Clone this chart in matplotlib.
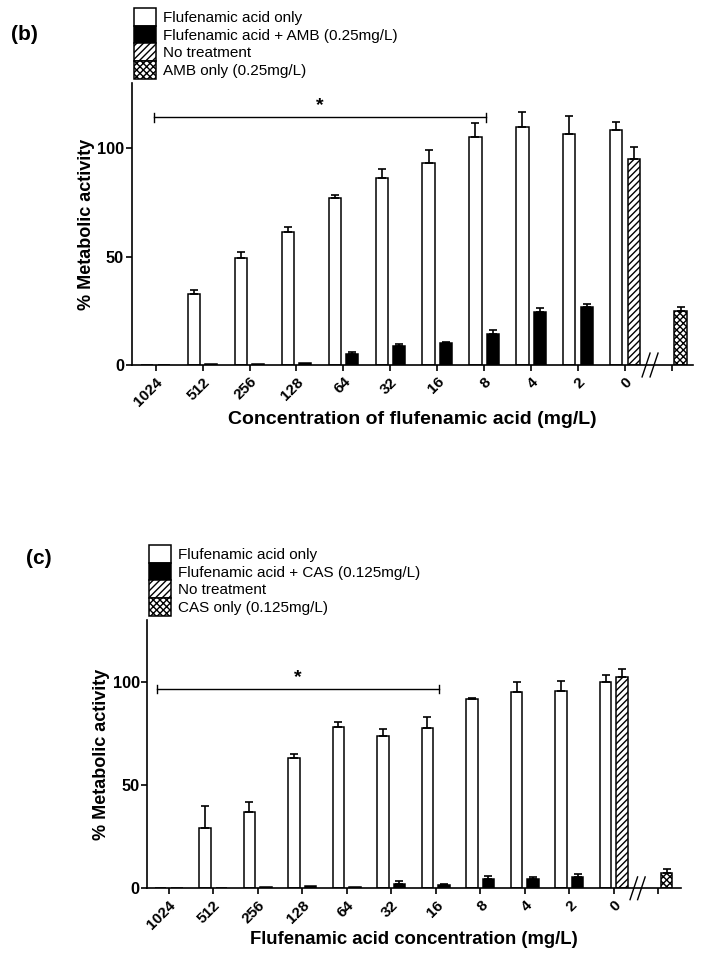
import numpy as np
import matplotlib
matplotlib.use("Agg")
import matplotlib.pyplot as plt

plt.rcParams['font.family'] = ['Liberation Sans', 'DejaVu Sans']
plt.rcParams['hatch.linewidth'] = 1.0

conc_labels = ['1024', '512', '256', '128', '64', '32', '16', '8', '4', '2', '0']

# panel (b) values
b_fa = [0, 32.8, 49.5, 61.5, 76.9, 86.4, 93.1, 105.4, 109.7, 106.5, 108.4]
b_fa_err = [0, 1.8, 2.8, 2.0, 1.5, 4.0, 6.3, 6.1, 7.1, 8.4, 3.9]
b_combo = [0, 0.6, 0.6, 1.1, 5.1, 8.9, 10.3, 14.1, 24.6, 26.6]
b_combo_err = [0, 0, 0, 0, 0.9, 0.6, 0.2, 2.2, 1.7, 1.7]
b_none, b_none_err = 94.9, 5.6
b_drug, b_drug_err = 25.1, 1.8
b_legend = ['Flufenamic acid only', 'Flufenamic acid + AMB (0.25mg/L)',
            'No treatment', 'AMB only (0.25mg/L)']

# panel (c) values
c_fa = [0, 29.0, 37.1, 62.9, 78.1, 73.6, 77.6, 91.5, 94.9, 95.3, 100.0]
c_fa_err = [0, 10.8, 4.8, 2.3, 2.6, 3.5, 5.2, 0.8, 5.1, 5.0, 3.2]
c_combo = [0, 0.2, 0.8, 1.1, 0.5, 1.9, 1.6, 4.5, 4.5, 5.6]
c_combo_err = [0, 0, 0, 0, 0, 1.6, 0.3, 1.3, 1.0, 1.1]
c_none, c_none_err = 102.4, 3.6
c_drug, c_drug_err = 7.3, 1.9
c_legend = ['Flufenamic acid only', 'Flufenamic acid + CAS (0.125mg/L)',
            'No treatment', 'CAS only (0.125mg/L)']

OFF = 0.185
W = 0.26
LW = 1.1


def errbars(ax, x, y, e):
    x, y, e = np.asarray(x, float), np.asarray(y, float), np.asarray(e, float)
    m = e > 0
    ax.errorbar(x[m], y[m], yerr=[np.zeros(m.sum()), e[m]], fmt='none',
                ecolor='black', elinewidth=1.2, capsize=2.6, capthick=1.2)


def panel(ax, fa, fa_err, combo, combo_err, none, none_err, drug, drug_err,
          xlab, xlab_size, sig_span, sig_y, xlim):
    n = len(fa)
    x = np.arange(n)
    xc = np.arange(len(combo))
    h1 = ax.bar(x - OFF, fa, W, color='white', edgecolor='black', linewidth=LW)
    h2 = ax.bar(xc + OFF, combo, W, color='black', edgecolor='black', linewidth=LW)
    h3 = ax.bar([n - 1 + OFF], [none], W, color='white', edgecolor='black',
                linewidth=LW, hatch='/////')
    h4 = ax.bar([n + OFF], [drug], W, color='white', edgecolor='black',
                linewidth=LW, hatch='xxxxx')
    errbars(ax, x - OFF, fa, fa_err)
    errbars(ax, xc + OFF, combo, combo_err)
    errbars(ax, [n - 1 + OFF, n + OFF], [none, drug], [none_err, drug_err])

    ax.set_xlim(*xlim)
    ax.set_ylim(0, 130)
    ax.set_yticks([0, 50, 100])
    ax.set_xticks(np.arange(n + 1))
    ax.set_xticklabels(conc_labels + [''], rotation=45, ha='right', va='top',
                       rotation_mode='anchor', fontweight='bold', fontsize=11)
    for t in ax.get_yticklabels():
        t.set_fontweight('bold')
        t.set_fontsize(11.8)
    for s in ['top', 'right']:
        ax.spines[s].set_visible(False)
    for s in ['left', 'bottom']:
        ax.spines[s].set_linewidth(1.2)
    ax.tick_params(direction='out', length=4, width=1.2, pad=1.5)
    ax.tick_params(axis='x', pad=3)
    ax.set_ylabel('% Metabolic activity', fontweight='bold', fontsize=13,
                  labelpad=1.5)
    ax.set_xlabel(xlab, fontweight='bold', fontsize=xlab_size)

    # significance bracket
    s0, s1 = sig_span
    ax.plot([s0, s1], [sig_y, sig_y], color='black', lw=1.0)
    ax.plot([s0, s0], [sig_y - 2, sig_y + 2], color='black', lw=1.0)
    ax.plot([s1, s1], [sig_y - 2, sig_y + 2], color='black', lw=1.0)
    ax.text((s0 + s1) / 2, sig_y + 1.5, '*', ha='center', va='bottom',
            fontsize=14, fontweight='bold')

    # axis break marks
    for bx in [n - 1 + 0.45, n - 1 + 0.62]:
        ax.plot([bx - 0.085, bx + 0.085], [-5.5, 5.5], color='black', lw=1.0,
                clip_on=False)

    return [h1, h2, h3, h4]


fig = plt.figure(figsize=(7.01, 9.6), dpi=100)

ax_b = fig.add_axes([0.1879, 0.6198, 0.8007, 0.2934])
hb = panel(ax_b, b_fa, b_fa_err, b_combo, b_combo_err, b_none, b_none_err,
           b_drug, b_drug_err, 'Concentration of flufenamic acid (mg/L)', 14,
           (-0.04, 7.03), 114.3, (-0.51, 11.45))
ax_b.xaxis.set_label_coords(0.5, -(420 - 365) / 281.7)
ax_b.xaxis.label.set_va('center')

ax_c = fig.add_axes([0.2101, 0.0747, 0.7620, 0.2798])
hc = panel(ax_c, c_fa, c_fa_err, c_combo, c_combo_err, c_none, c_none_err,
           c_drug, c_drug_err, 'Flufenamic acid concentration (mg/L)', 13.3,
           (-0.27, 6.08), 96.6, (-0.48, 11.52))
ax_c.xaxis.set_label_coords(0.5, -(940 - 888.3) / 268.6)
ax_c.xaxis.label.set_va('center')


def legend(handles, labels, x, y):
    return fig.legend(handles, labels, loc='upper left',
                      bbox_to_anchor=(x / 701, 1 - y / 960), frameon=False,
                      fontsize=11, handlelength=1.45, handleheight=1.4,
                      handletextpad=0.45, labelspacing=0.0, borderpad=0,
                      borderaxespad=0)


legend(hb, b_legend, 134, 8)
legend(hc, c_legend, 149, 545)

fig.text(24 / 701, 1 - 34 / 960, '(b)', fontsize=15, fontweight='bold',
         ha='center', va='center')
fig.text(39 / 701, 1 - 559 / 960, '(c)', fontsize=15, fontweight='bold',
         ha='center', va='center')

fig.savefig('out.png', dpi=100)
